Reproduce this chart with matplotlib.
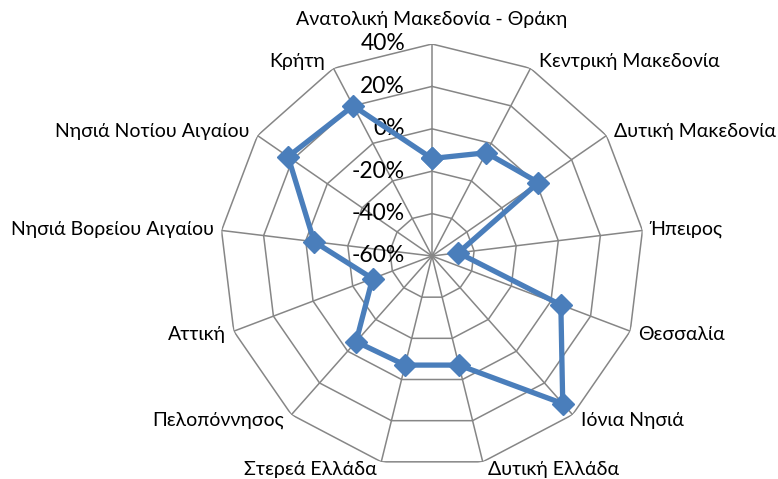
import numpy as np
import matplotlib
matplotlib.use("Agg")
import matplotlib.pyplot as plt

plt.rcParams['font.family'] = ['Lato', 'DejaVu Sans']

regions = ["Ανατολική Μακεδονία - Θράκη", "Κεντρική Μακεδονία", "Δυτική Μακεδονία",
           "Ήπειρος", "Θεσσαλία", "Ιόνια Νησιά", "Δυτική Ελλάδα", "Στερεά Ελλάδα",
           "Πελοπόννησος", "Αττική", "Νησιά Βορείου Αιγαίου", "Νησιά Νοτίου Αιγαίου", "Κρήτη"]
values = [-14, -5, 1, -47.5, 5, 33, -7, -7, -6, -30, -4, 22.5, 20]
ticks = [-60, -40, -20, 0, 20, 40]
tick_labels = ["-60%", "-40%", "-20%", "0%", "20%", "40%"]

n = len(regions)
theta = np.arange(n) * 2 * np.pi / n
rmin, rmax = ticks[0], ticks[-1]

fig = plt.figure(figsize=(7.78, 4.79), dpi=100)
ax = fig.add_axes([220 / 778, 11 / 479, 424 / 778, 424 / 479], projection='polar')
ax.set_theta_zero_location('N')
ax.set_theta_direction(-1)
ax.set_ylim(rmin, rmax)
ax.grid(False)
ax.spines['polar'].set_visible(False)
ax.set_xticks([])
ax.set_yticks([])

grid_c = '#868686'
tc = np.append(theta, theta[0])
for t in ticks[1:]:
    ax.plot(tc, [t] * (n + 1), color=grid_c, lw=1.1, zorder=1)
for th in theta:
    ax.plot([th, th], [rmin, rmax], color=grid_c, lw=1.1, zorder=1)

for t, lab in zip(ticks, tick_labels):
    ax.annotate(lab, xy=(0, t), xytext=(-27, 0), textcoords='offset pixels',
                ha='right', va='center', fontsize=16.5, color='black', zorder=2)

vc = np.append(values, values[0])
ax.plot(tc, vc, color='#4A7EBB', lw=3.8, marker='D', markersize=11, zorder=3)

for th, lab in zip(theta, regions):
    s, c = np.sin(th), np.cos(th)
    if abs(s) < 0.05:
        ha, dx, dy = 'center', 0, 24
    else:
        ha = 'left' if s > 0 else 'right'
        dx = (5 if abs(c) > 0.95 else 8) * np.sign(s)
        dy = 8 * c
    ax.annotate(lab, xy=(th, rmax), xytext=(dx, dy), textcoords='offset pixels',
                ha=ha, va='center', fontsize=14, color='black', annotation_clip=False)

fig.savefig('out.png', dpi=100)
